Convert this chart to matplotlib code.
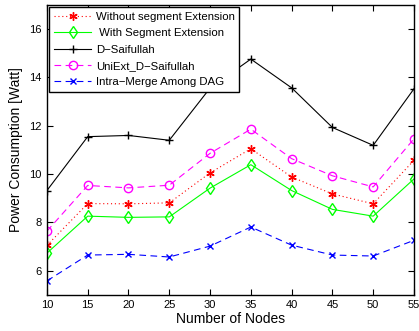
import matplotlib
matplotlib.use("Agg")
import matplotlib.pyplot as plt

# Data
nodes = [10, 15, 20, 25, 30, 35, 40, 45, 50, 55]
without_seg = [7.05, 8.78, 8.77, 8.81, 10.05, 11.05, 9.88, 9.18, 8.77, 10.57]
with_seg = [6.73, 8.26, 8.21, 8.23, 9.42, 10.39, 9.32, 8.54, 8.26, 9.80]
d_saifullah = [9.32, 11.55, 11.60, 11.40, 13.56, 14.76, 13.57, 11.93, 11.19, 13.53]
uniext = [7.64, 9.53, 9.43, 9.54, 10.86, 11.86, 10.64, 9.93, 9.47, 11.46]
intra_merge = [5.58, 6.65, 6.68, 6.57, 7.02, 7.81, 7.06, 6.65, 6.61, 7.26]

plt.rcParams['font.family'] = ['Liberation Sans', 'DejaVu Sans']

fig = plt.figure(figsize=(4.19, 3.31), dpi=100)
ax = fig.add_axes([0.112, 0.109, 0.876, 0.876])

ax.plot(nodes, without_seg, color="red", linestyle=(0, (1, 2.5)), linewidth=0.8,
        marker=(6, 2, 0), markersize=6, markeredgewidth=1.0,
        label="Without segment Extension")
ax.plot(nodes, with_seg, color="#00ff00", linestyle="-", linewidth=0.8,
        marker="d", markersize=6, markerfacecolor="none", label=" With Segment Extension")
ax.plot(nodes, d_saifullah, color="black", linestyle="-", linewidth=0.8,
        marker="+", markersize=6, label="D\u2212Saifullah")
ax.plot(nodes, uniext, color="magenta", linestyle=(0, (6, 4)), linewidth=0.8,
        marker="o", markersize=6, markerfacecolor="none", label="UniExt_D\u2212Saifullah")
ax.plot(nodes, intra_merge, color="blue", linestyle=(0, (6, 4)), linewidth=0.8,
        marker="x", markersize=4, label="Intra\u2212Merge Among DAG")

ax.set_xlim(10, 55)
ax.set_ylim(5, 17)
ax.set_xticks(nodes)
ax.set_yticks([6, 8, 10, 12, 14, 16])
ax.tick_params(direction="in", top=True, right=True, labelsize=8, length=4, pad=4)
for s in ax.spines.values():
    s.set_linewidth(1.0)

ax.set_xlabel("Number of Nodes", fontsize=10, labelpad=1)
ax.set_ylabel("Power Consumption [Watt]", fontsize=10, labelpad=4)

leg = ax.legend(loc="upper left", fontsize=8.2, frameon=True, fancybox=False,
                edgecolor="black", framealpha=1, borderpad=0.4, labelspacing=0.56,
                handlelength=3.3, handletextpad=0.4, borderaxespad=0.2)
leg.get_frame().set_linewidth(1.0)

fig.savefig("out.png", dpi=100)
